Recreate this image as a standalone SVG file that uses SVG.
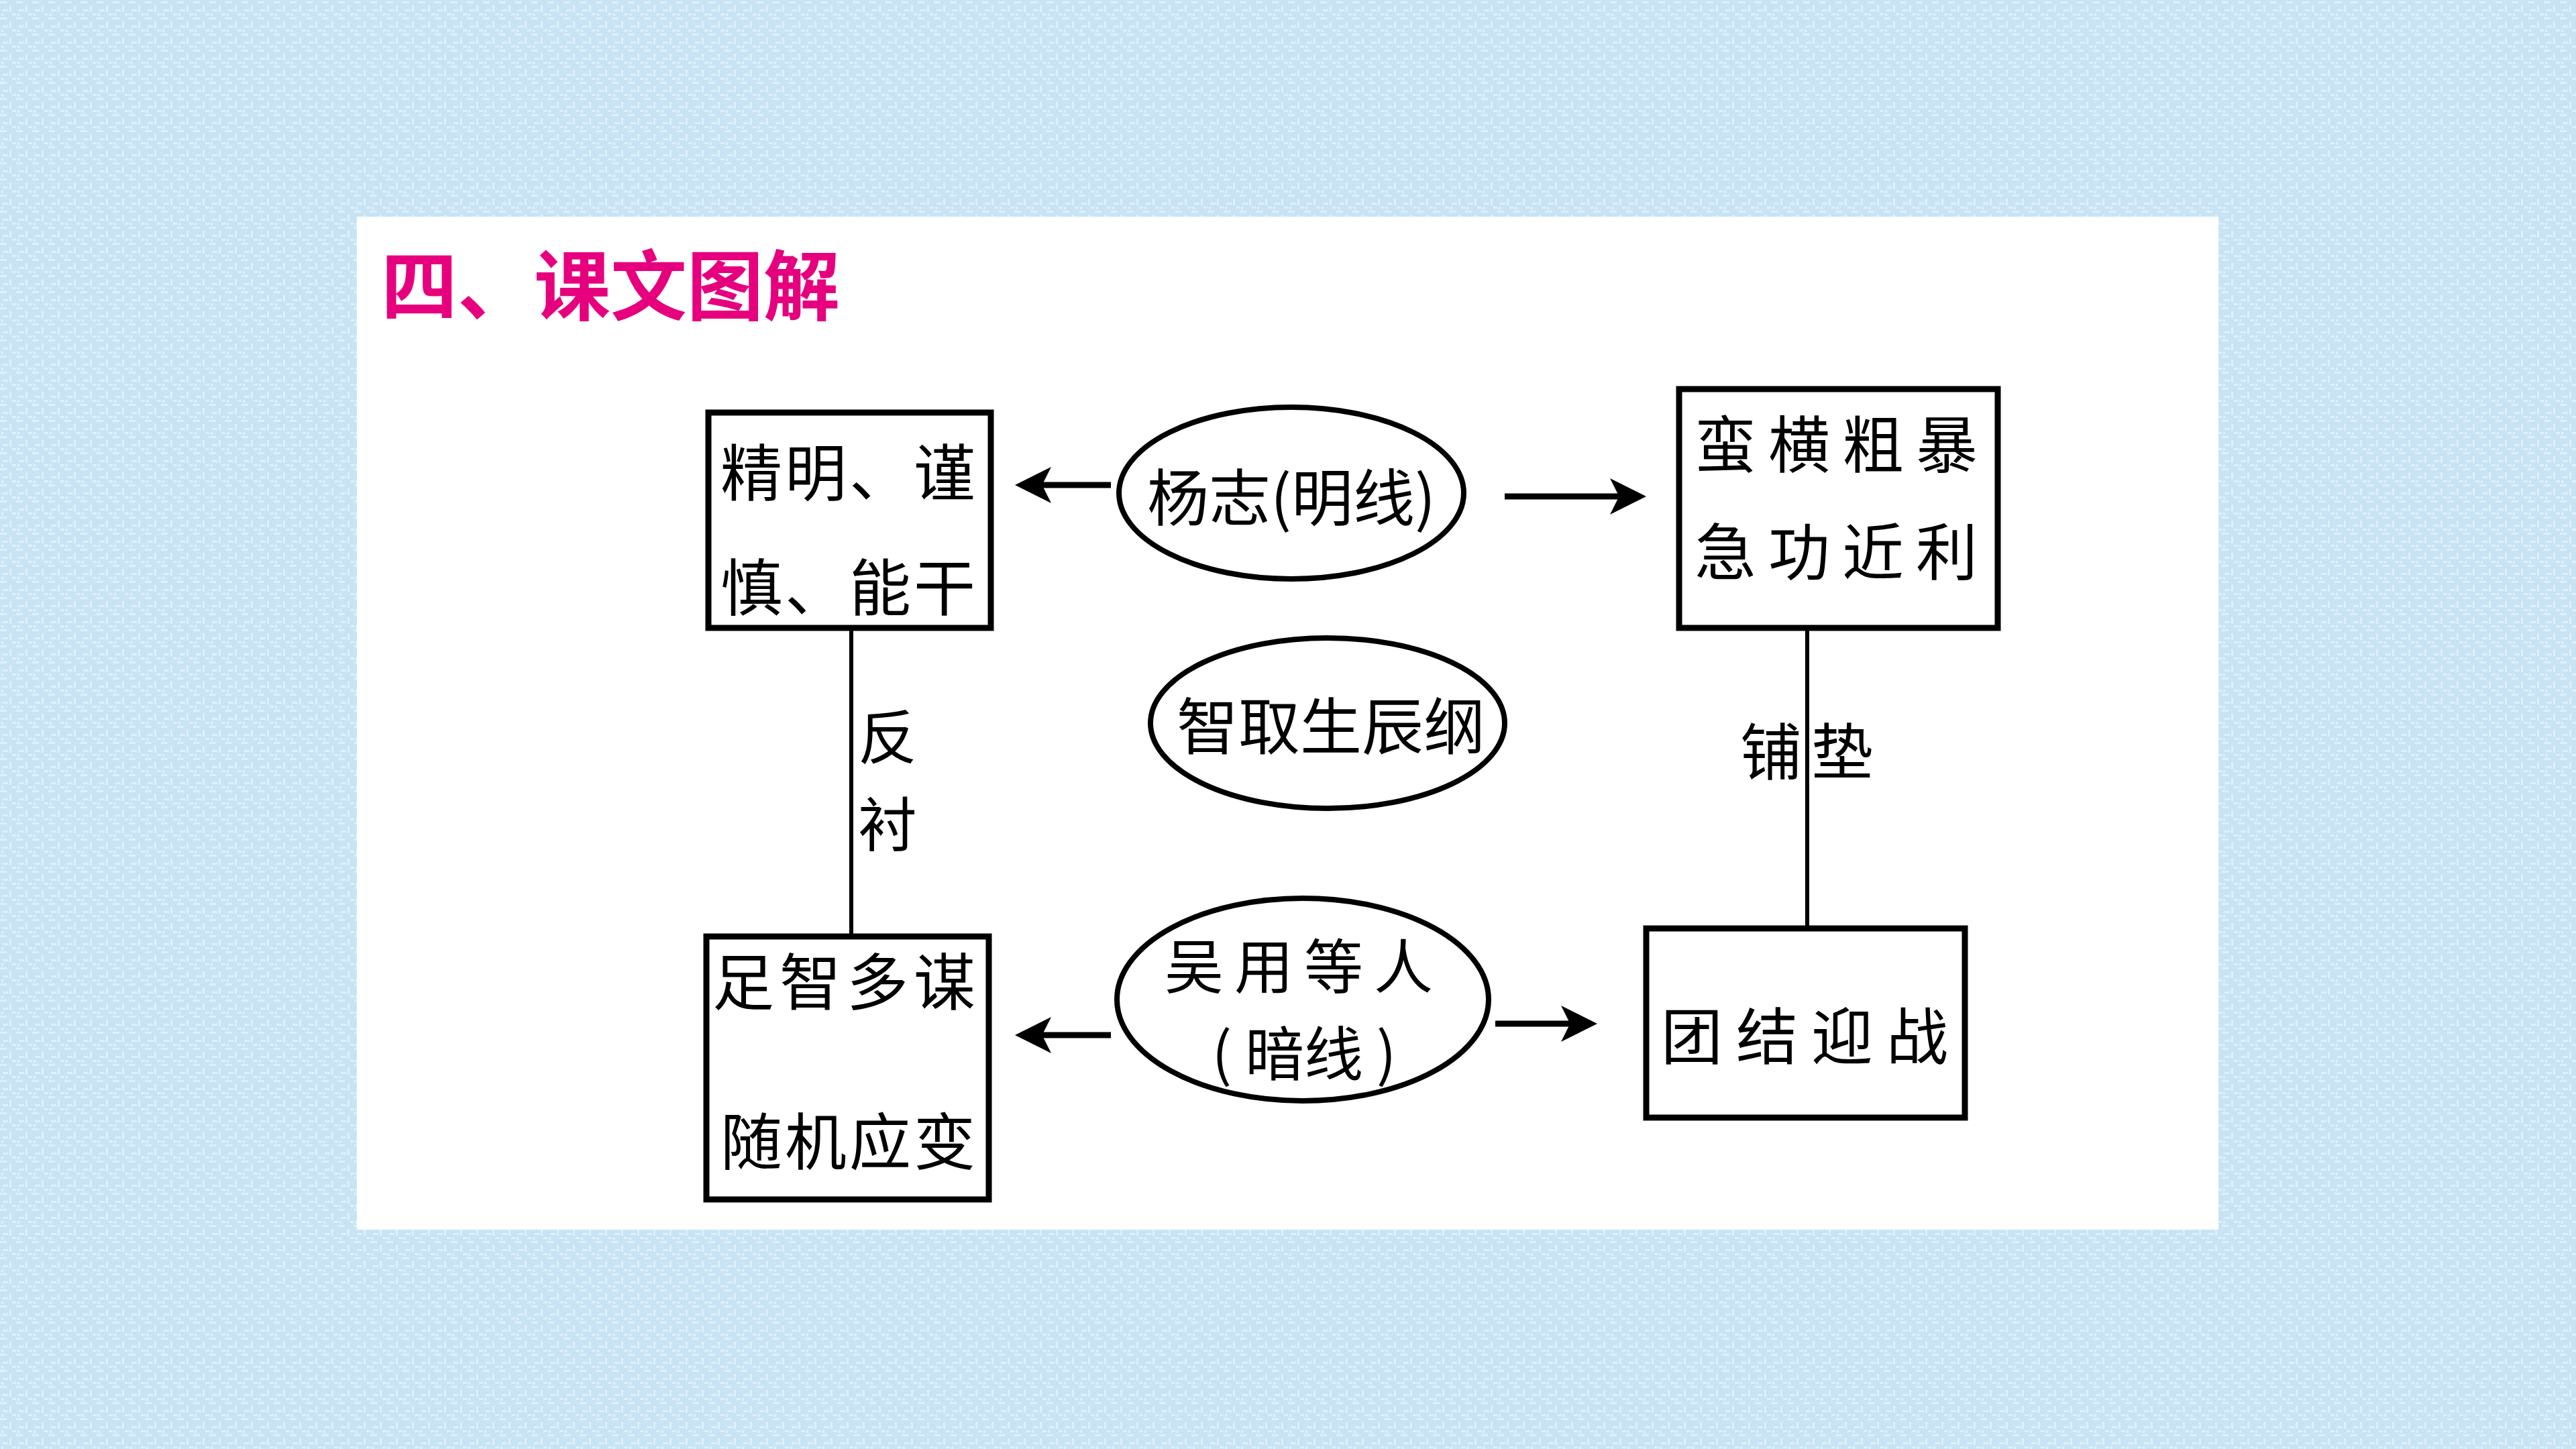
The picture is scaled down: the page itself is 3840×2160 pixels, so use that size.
<svg xmlns="http://www.w3.org/2000/svg" width="3840" height="2160" viewBox="0 0 3840 2160">
<defs>
<pattern id="tex" width="24" height="24" patternUnits="userSpaceOnUse">
<rect width="24" height="24" fill="#c8e4f4"/>
<rect x="0" y="2" width="10" height="3" fill="#dff0fa"/>
<rect x="14" y="8" width="3" height="10" fill="#dff0fa"/>
<rect x="4" y="14" width="8" height="3" fill="#dff0fa"/>
<rect x="18" y="20" width="6" height="3" fill="#dff0fa"/>
<rect x="2" y="20" width="3" height="4" fill="#dff0fa"/>
</pattern>
<marker id="ah" markerWidth="6" markerHeight="6" refX="5" refY="3" orient="auto" markerUnits="strokeWidth">
<path d="M0,0 L6,3 L0,6 L1.5,3 Z" fill="#000"/>
</marker>
<style>
.box{fill:#fff;stroke:#000;stroke-width:9}
.ell{fill:#fff;stroke:#000;stroke-width:8}
.t{font-family:"Noto Sans CJK SC","Noto Sans CJK TC",sans-serif;font-size:92px;fill:#000;dominant-baseline:central;text-anchor:middle}
.s{font-size:88px}
.conn{stroke:#000;stroke-width:9;fill:none}
.vl{stroke:#000;stroke-width:6;fill:none}
</style>
</defs>
<rect width="3840" height="2160" fill="url(#tex)"/>
<rect x="532" y="323" width="2775" height="1510" fill="#fff"/>
<text x="568" y="468" font-family="'Noto Sans CJK SC',sans-serif" font-size="114" font-weight="bold" fill="#e6007e">四、课文图解</text>

<g id="connectors">
<line class="conn" x1="1656" y1="723" x2="1522" y2="723" marker-end="url(#ah)"/>
<line class="conn" x1="2243" y1="740" x2="2445" y2="740" marker-end="url(#ah)"/>
<line class="conn" x1="1656" y1="1543" x2="1522" y2="1543" marker-end="url(#ah)"/>
<line class="conn" x1="2229" y1="1526" x2="2372" y2="1526" marker-end="url(#ah)"/>
<line class="vl" x1="1269" y1="936" x2="1269" y2="1396"/>
<line class="vl" x1="2694" y1="936" x2="2694" y2="1384"/>
<text class="t s" x="1323" y="1092">反</text>
<text class="t s" x="1323" y="1222">衬</text>
<text class="t" x="2640" y="1114">铺</text>
<text class="t" x="2746" y="1114">垫</text>
</g>

<g id="box1">
<rect class="box" x="1056" y="615" width="421" height="321"/>
<text class="t" x="1266" y="698" letter-spacing="4">精明、谨</text>
<text class="t" x="1266" y="869" letter-spacing="4">慎、能干</text>
</g>

<g id="ell1">
<ellipse class="ell" cx="1925" cy="735" rx="257" ry="128"/>
<text class="t" x="1925" y="735">杨志(明线)</text>
</g>

<g id="box2">
<rect class="box" x="2503" y="580" width="475" height="356"/>
<text class="t" x="2746" y="656" letter-spacing="18">蛮横粗暴</text>
<text class="t" x="2746" y="816" letter-spacing="18">急功近利</text>
</g>

<g id="ell2">
<ellipse class="ell" cx="1979" cy="1078" rx="264" ry="127"/>
<text class="t" x="1984" y="1076">智取生辰纲</text>
</g>

<g id="box3">
<rect class="box" x="1053" y="1396" width="421" height="392"/>
<text class="t" x="1262" y="1457" letter-spacing="8">足智多谋</text>
<text class="t" x="1266" y="1695" letter-spacing="4">随机应变</text>
</g>

<g id="ell3">
<ellipse class="ell" cx="1942" cy="1490" rx="277" ry="151"/>
<text class="t s" x="1944" y="1434" letter-spacing="16">吴用等人</text>
<text class="t s" x="1944" y="1564">(  暗线  )</text>
</g>

<g id="box4">
<rect class="box" x="2454" y="1384" width="475" height="282"/>
<text class="t" x="2700" y="1538" letter-spacing="20">团结迎战</text>
</g>
</svg>
